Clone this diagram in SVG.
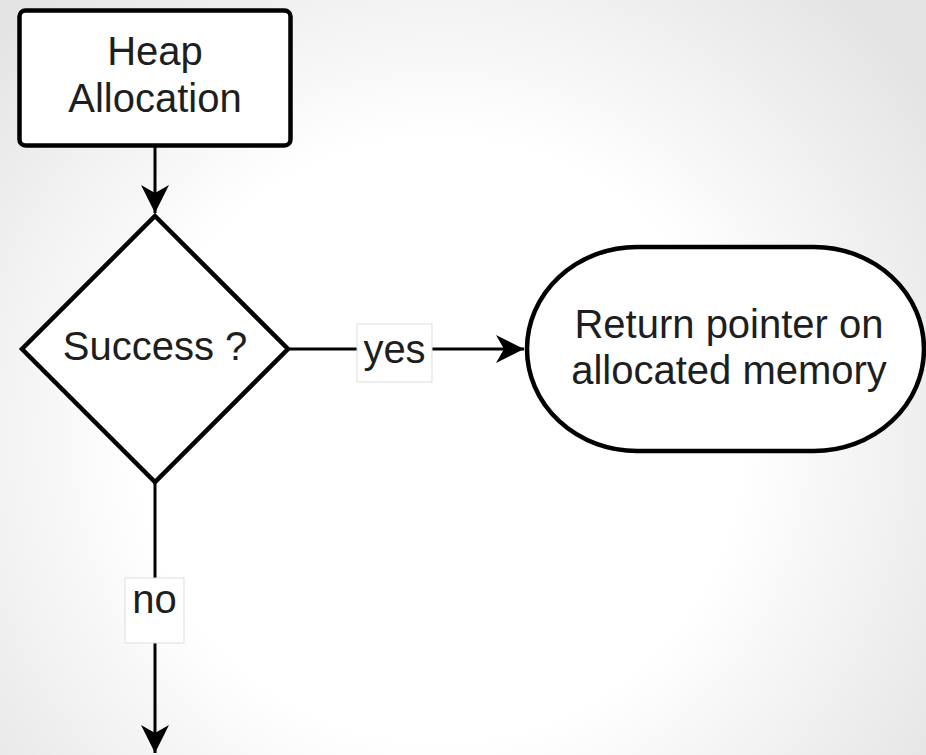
<svg xmlns="http://www.w3.org/2000/svg" width="926" height="755" viewBox="0 0 926 755">
  <defs>
    <radialGradient id="bg" gradientUnits="userSpaceOnUse" cx="440" cy="440" r="600">
      <stop offset="0" stop-color="#ffffff"/>
      <stop offset="0.5" stop-color="#ffffff"/>
      <stop offset="1" stop-color="#e4e4e4"/>
    </radialGradient>
    <marker id="arrow" markerUnits="userSpaceOnUse" markerWidth="32" markerHeight="32" viewBox="-30 -16 32 32" refX="0" refY="0" orient="auto">
      <path d="M0,0 L-28,-14 L-20,0 L-28,14 Z" fill="#000"/>
    </marker>
  </defs>
  <style>
    .node { fill: #ffffff; stroke: #000000; stroke-width: 4.5; }
    .edge { fill: none; stroke: #000000; stroke-width: 3; }
    .lbl-box { fill: #ffffff; stroke: #dddddd; stroke-width: 1; }
    text { font-family: "Liberation Sans", Arial, sans-serif; font-size: 40px; fill: #1e1e1e; text-anchor: middle; }
  </style>

  <rect x="0" y="0" width="926" height="755" fill="url(#bg)"/>

  <!-- connectors -->
  <g id="connectors">
    <line class="edge" x1="155" y1="147" x2="155" y2="213" marker-end="url(#arrow)"/>
    <line class="edge" x1="288" y1="349" x2="524" y2="349" marker-end="url(#arrow)"/>
    <line class="edge" x1="155" y1="482" x2="155" y2="753" marker-end="url(#arrow)"/>
    <g id="label-yes">
      <rect class="lbl-box" x="357" y="324" width="75" height="58"/>
      <text x="394.5" y="363">yes</text>
    </g>
    <g id="label-no">
      <rect class="lbl-box" x="125" y="578" width="59" height="65"/>
      <text x="154.5" y="613">no</text>
    </g>
  </g>

  <!-- nodes -->
  <g id="heap-allocation">
    <rect class="node" x="19.5" y="10.5" width="271" height="135" rx="6"/>
    <text x="155" y="65">Heap</text>
    <text x="155" y="112">Allocation</text>
  </g>

  <g id="success">
    <polygon class="node" points="155,216 288,349 155,482 22,349"/>
    <text x="155" y="360">Success ?</text>
  </g>

  <g id="return-pointer">
    <rect class="node" x="527" y="247" width="397" height="204" rx="110" ry="102"/>
    <text x="729" y="338">Return pointer on</text>
    <text x="729" y="384">allocated memory</text>
  </g>
</svg>
